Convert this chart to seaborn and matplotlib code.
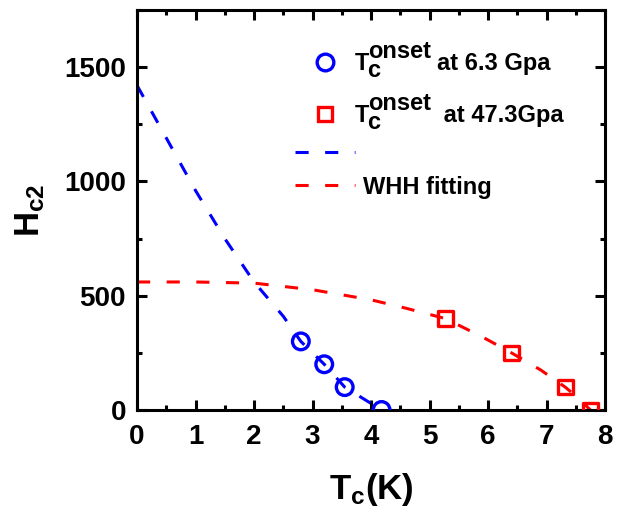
import matplotlib
matplotlib.use("Agg")
import matplotlib.pyplot as plt
from matplotlib.lines import Line2D
from matplotlib.ticker import MultipleLocator
import seaborn as sns

# data points
t_63 = [2.80, 3.20, 3.55, 4.18]
h_63 = [300, 200, 100, 0]
t_473 = [5.27, 6.40, 7.32, 7.75]
h_473 = [400, 250, 100, 0]

# fitted curves
fit_t_63 = [0.0, 0.5, 1.0, 1.5, 2.0, 2.5, 2.8, 3.2, 3.55, 4.18]
fit_h_63 = [1420, 1190, 960, 750, 560, 410, 300, 200, 100, 0]
fit_t_473 = [0.0, 1.0, 2.0, 3.0, 4.0, 4.6, 5.27, 5.9, 6.4, 6.9, 7.32, 7.55, 7.75]
fit_h_473 = [560, 560, 555, 526, 482, 445, 400, 320, 250, 175, 100, 50, 0]

legend_rows = [("T", "c", "onset", "at 6.3 Gpa"),
               ("T", "c", "onset", " at 47.3Gpa")]
fit_label = "WHH fitting"

sns.set_theme(style="ticks")
plt.rcParams['font.family'] = ['Liberation Sans', 'DejaVu Sans']
plt.rcParams['font.weight'] = 'bold'
plt.rcParams['mathtext.fontset'] = 'custom'
plt.rcParams['mathtext.rm'] = 'Liberation Sans:bold'
plt.rcParams['mathtext.it'] = 'Liberation Sans:bold'
plt.rcParams['mathtext.bf'] = 'Liberation Sans:bold'
for k in ['text.color', 'axes.labelcolor', 'xtick.color', 'ytick.color', 'axes.edgecolor']:
    plt.rcParams[k] = 'black'

fig = plt.figure(figsize=(6.24, 5.17), dpi=100)
ax = fig.add_axes([0.2196, 0.207, 0.75, 0.7737])

dash = (0, (4.3, 5.4))
sns.lineplot(x=fit_t_63, y=fit_h_63, ax=ax, color='blue', linewidth=2.2,
             linestyle=dash, sort=False, estimator=None)
sns.lineplot(x=fit_t_473, y=fit_h_473, ax=ax, color='red', linewidth=2.2,
             linestyle=dash, sort=False, estimator=None)
sns.scatterplot(x=t_63, y=h_63, ax=ax, marker='o', s=12**2, facecolors='none',
                edgecolor='blue', linewidth=2.4, zorder=5)
sns.scatterplot(x=t_473, y=h_473, ax=ax, marker='s', s=10.5**2, facecolors='none',
                edgecolor='red', linewidth=2.4, zorder=5)

ax.set_xlim(0, 8)
ax.set_ylim(0, 1750)
ax.xaxis.set_major_locator(MultipleLocator(1))
ax.xaxis.set_minor_locator(MultipleLocator(0.5))
ax.yaxis.set_major_locator(MultipleLocator(500))
ax.yaxis.set_minor_locator(MultipleLocator(250))
ax.tick_params(which='both', direction='in', top=True, right=True, width=2.2,
               colors='black')
ax.tick_params(which='major', length=7, labelsize=20)
ax.tick_params(which='minor', length=3.5)
ax.tick_params(axis='x', which='major', pad=10)
ax.tick_params(axis='y', which='major', pad=8)
for lab in ax.get_xticklabels() + ax.get_yticklabels():
    lab.set_fontweight('bold')
for sp in ax.spines.values():
    sp.set_linewidth(2.2)
    sp.set_color('black')

ax.set_xlabel(r'T$_\mathregular{c}$(K)', fontsize=25, fontweight='bold', labelpad=15)
ax.set_ylabel(r'H$_\mathregular{c2}$', fontsize=25, fontweight='bold', labelpad=12)

FS = 17
# legend part 1: data markers
hA = [Line2D([], [], marker='o', ls='none', mfc='none', mec='blue', ms=12, mew=2.4),
      Line2D([], [], marker='s', ls='none', mfc='none', mec='red', ms=10.5, mew=2.4)]
legA = ax.legend(hA, [r[0] for r in legend_rows], loc='upper left',
                 bbox_to_anchor=(0.3376, 0.895), frameon=False,
                 handlelength=2.55, handletextpad=0.0, borderpad=0, borderaxespad=0,
                 labelspacing=1.22, prop={'weight': 'bold', 'size': FS})
ax.add_artist(legA)
for txt, (_, sub, sup, rest) in zip(legA.get_texts(), legend_rows):
    a_sup = ax.annotate(sup, xy=(1, 0), xycoords=txt, xytext=(-1, 12),
                        textcoords='offset pixels', ha='left', va='bottom',
                        fontsize=FS, fontweight='bold', zorder=10,
                        annotation_clip=False)
    ax.annotate(sub, xy=(1, 0), xycoords=txt, xytext=(-2, -7),
                textcoords='offset pixels', ha='left', va='bottom',
                fontsize=FS, fontweight='bold', zorder=10, annotation_clip=False)
    ax.annotate(rest, xy=(1, 0), xycoords=(a_sup, txt), xytext=(5, 0),
                textcoords='offset pixels', ha='left', va='bottom',
                fontsize=FS, fontweight='bold', zorder=10, annotation_clip=False)

# legend part 2: fitted lines
hB = [Line2D([], [], color='blue', lw=2.2, ls=dash),
      Line2D([], [], color='red', lw=2.2, ls=dash)]
legB = ax.legend(hB, [' ', fit_label], loc='upper left',
                 bbox_to_anchor=(0.3376, 0.67), frameon=False,
                 handlelength=2.55, handletextpad=0.34, borderpad=0, borderaxespad=0,
                 labelspacing=0.45, prop={'weight': 'bold', 'size': FS})

fig.savefig('out.png', dpi=100)
